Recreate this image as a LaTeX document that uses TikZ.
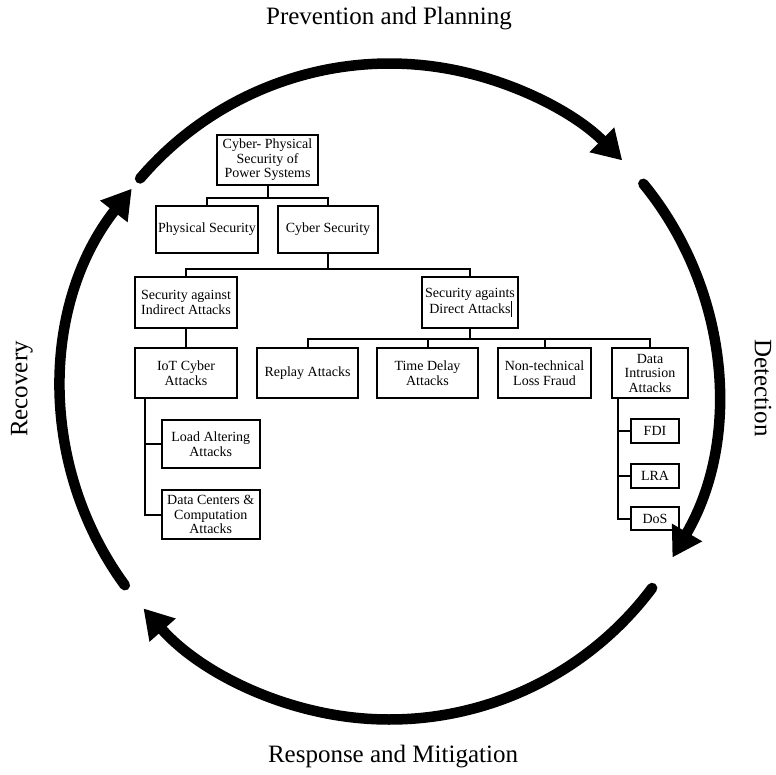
\documentclass[tikz,border=0pt]{standalone}
\usepackage{fontspec}
\setmainfont{Liberation Serif}
\usetikzlibrary{arrows.meta}

\begin{document}
\begin{tikzpicture}[x=1pt,y=-1pt,
  box/.style={draw, line width=2pt, align=center, inner sep=0pt,
    font=\fontsize{14}{14.5}\selectfont},
  link/.style={line width=2pt},
  cyc/.style={line width=10.5pt, line cap=round,
    -{Triangle[length=29pt,width=33pt]}},
  phase/.style={font=\fontsize{25}{25}\selectfont, inner sep=0pt}]
\useasboundingbox (0,0) rectangle (776,774);

% hierarchy of security topics
\node[box, minimum width=101pt, minimum height=50pt] (root) at (267.5,160)
  {Cyber- Physical\\Security of\\Power Systems};
\node[box, minimum width=102pt, minimum height=47pt] (phys) at (207,229.5)
  {Physical Security};
\node[box, minimum width=100pt, minimum height=47pt] (cyber) at (328,229.5)
  {Cyber Security};
\node[box, minimum width=102pt, minimum height=51pt] (indirect) at (186,302.5)
  {Security against\\Indirect Attacks};
\node[box, minimum width=96pt, minimum height=51pt] (direct) at (470,302.5)
  {Security againts\\Direct Attacks\rlap{\rule[-3.5pt]{0.7pt}{16pt}}};
\node[box, minimum width=102pt, minimum height=50pt] (iot) at (186,373)
  {IoT Cyber\\Attacks};
\node[box, minimum width=101pt, minimum height=50pt] (replay) at (307.5,373)
  {Replay Attacks};
\node[box, minimum width=101pt, minimum height=50pt] (tdelay) at (427.5,373)
  {Time Delay\\Attacks};
\node[box, minimum width=93pt, minimum height=50pt] (ntl) at (544.5,373)
  {Non-technical\\Loss Fraud};
\node[box, minimum width=76pt, minimum height=50pt] (dia) at (650,373)
  {Data\\Intrusion\\Attacks};
\node[box, minimum width=48pt, minimum height=24pt] (fdi) at (655,431) {FDI};
\node[box, minimum width=48pt, minimum height=24pt] (lra) at (655,476) {LRA};
\node[box, minimum width=48pt, minimum height=23pt] (dos) at (655,518.5) {DoS};
\node[box, minimum width=98.5pt, minimum height=48pt] (lat) at (210.75,444)
  {Load Altering\\Attacks};
\node[box, minimum width=98.5pt, minimum height=49pt] (dcc) at (210.75,514.5)
  {Data Centers \&\\Computation\\Attacks};

% tree connectors
\path (root.south) ++(0,12) coordinate (j1);
\draw[link] (root.south) -- (j1);
\draw[link] (phys.north) |- (j1) -| (cyber.north);

\path (cyber.south) ++(0,15) coordinate (j2);
\draw[link] (cyber.south) -- (j2);
\draw[link] (indirect.north) |- (j2) -| (direct.north);

\path (direct.south) ++(0,10) coordinate (j3);
\draw[link] (direct.south) -- (j3);
\draw[link] (replay.north) |- (j3) -| (dia.north);
\draw[link] (tdelay.north) -- (tdelay.north |- j3);
\draw[link] (ntl.north) -- (ntl.north |- j3);

\draw[link] (indirect.south) -- (iot.north);

\path ([xshift=11pt]iot.south west) coordinate (s1);
\draw[link] (s1) |- (dcc.west);
\draw[link] (s1 |- lat.west) -- (lat.west);

\path ([xshift=7pt]dia.south west) coordinate (s2);
\draw[link] (s2) |- (dos.west);
\draw[link] (s2 |- fdi.west) -- (fdi.west);
\draw[link] (s2 |- lra.west) -- (lra.west);

% cycle of phases
\coordinate (O) at (389.5,391.5);
\draw[cyc] (O) ++(139.5:328pt) arc[start angle=139.5, end angle=44.8, radius=328pt];
\draw[cyc] (O) ++(39.3:328pt) arc[start angle=39.3, end angle=-30.4, radius=328pt];
\draw[cyc] (O) ++(-36.8:328pt) arc[start angle=-36.8, end angle=-138.6, radius=328pt];
\draw[cyc] (O) ++(-143.8:328pt) arc[start angle=-143.8, end angle=-218.2, radius=328pt];

\node[phase] (prev) at (389,19) {Prevention and Planning};
\node[phase] (resp) at (393,757) {Response and Mitigation};
\node[phase, rotate=90] (rec) at (22,389) {Recovery};
\node[phase, rotate=-90] (det) at (763,388) {Detection};
\end{tikzpicture}
\end{document}
